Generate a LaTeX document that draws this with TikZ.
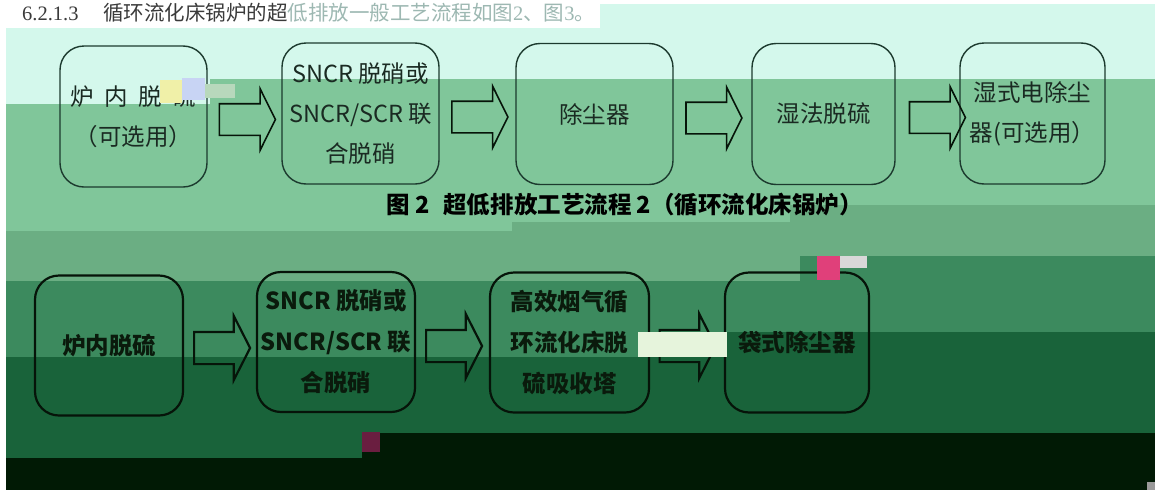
\documentclass[tikz,border=0pt]{standalone}
\usepackage{fontspec}
\setmainfont{Liberation Serif}
\newfontfamily\cjk{Noto Sans CJK SC}
\usetikzlibrary{shapes.arrows}
\definecolor{mint}{HTML}{D4F8EC}
\definecolor{gA}{HTML}{80C69A}
\definecolor{gB}{HTML}{6BAE83}
\definecolor{gC}{HTML}{3C8A5E}
\definecolor{gD}{HTML}{19633A}
\definecolor{gE}{HTML}{011A05}
\definecolor{uline}{HTML}{1C3A2E}
\definecolor{utext}{HTML}{1A2A22}
\definecolor{lline}{HTML}{061409}
\definecolor{ltext}{HTML}{0A1A0C}
\definecolor{hdark}{HTML}{3A3A3A}
\definecolor{hlight}{HTML}{9DB8B2}
\definecolor{glA}{HTML}{E6F4DC}
\definecolor{glB}{HTML}{F0F0A8}
\definecolor{glC}{HTML}{C8D4F4}
\definecolor{glD}{HTML}{B8D8BC}
\definecolor{glE}{HTML}{E0407A}
\definecolor{glF}{HTML}{D8D8D8}
\definecolor{glG}{HTML}{6A1E40}
\definecolor{glH}{HTML}{9A9A9A}
\begin{document}
\begin{tikzpicture}[x=1pt,y=-1pt,
  ubox/.style={draw=uline, line width=1.4pt, rounded corners=24pt, minimum height=141pt,
    align=center, text=utext, inner sep=0pt, font=\cjk\fontsize{23.5}{40}\selectfont},
  lbox/.style={draw=lline, line width=2.2pt, rounded corners=24pt, minimum height=140pt,
    align=center, text=ltext, inner sep=0pt, font=\cjk\bfseries\fontsize{23.5}{41}\selectfont},
  uarrow/.style={single arrow, draw=lline, line width=1.6pt, minimum height=56pt,
    single arrow head extend=15pt, inner xsep=0pt, inner ysep=15pt, single arrow tip angle=127},
  larrow/.style={single arrow, draw=lline, line width=2.2pt, minimum height=56pt,
    single arrow head extend=16pt, inner xsep=0pt, inner ysep=15pt, single arrow tip angle=126}]
\useasboundingbox (0,0) rectangle (1155,490);
% background bands
\fill[white] (0,0) rectangle (1155,490);
\fill[mint] (6,28) rectangle (1155,490);
\fill[mint] (600,4) rectangle (1155,28);
\fill[gA] (6,104) rectangle (210,490);
\fill[gA] (210,79) rectangle (1155,490);
\fill[gB] (6,231) rectangle (512,490);
\fill[gB] (512,222) rectangle (790,490);
\fill[gB] (790,205) rectangle (1155,490);
\fill[gC] (6,281) rectangle (800,490);
\fill[gC] (800,256) rectangle (1155,490);
\fill[gD] (6,357) rectangle (727,490);
\fill[gD] (727,332) rectangle (1155,490);
\fill[gE] (6,458) rectangle (362,490);
\fill[gE] (362,433) rectangle (1155,490);
% header line
\node[anchor=base west, inner sep=0pt, font=\fontsize{20.5}{22}\selectfont] (hdr) at (22,20)
  {\color{hdark}6.2.1.3\hspace{1.2em}{\cjk 循环流化床锅炉的超}\color{hlight}{\cjk 低排放一般工艺流程如图}2{\cjk 、图}3{\cjk 。}};
% upper row
\node[ubox, minimum width=147pt] (u1) at (133.5,116.5)
  {炉\hspace{0.45em}内\hspace{0.45em}脱\hspace{0.45em}硫\\（可选用）};
\node[ubox, minimum width=157pt] (u2) at (360.5,113.5) {SNCR 脱硝或\\SNCR/SCR 联\\合脱硝};
\node[ubox, minimum width=157pt] (u3) at (594.5,114) {除尘器};
\node[ubox, minimum width=143pt] (u4) at (823.5,114) {湿法脱硫};
\node[ubox, minimum width=145pt] (u5) at (1032.5,113.5) {湿式电除尘\\器(可选用）};
\node[uarrow] (ua1) at (243.5,119.5) {};
\node[uarrow] (ua2) at (476,117) {};
\node[uarrow] (ua3) at (710,118) {};
\node[uarrow] (ua4) at (933.5,117.5) {};
% caption
\node[anchor=west, inner sep=0pt, text=black, font=\cjk\bfseries\fontsize{23.5}{25}\selectfont] (cap) at (386,205)
  {图 2\hspace{0.6em}超低排放工艺流程 2（循环流化床锅炉）};
% lower row
\node[lbox, minimum width=148pt] (l1) at (109,345.5) {炉内脱硫};
\node[lbox, minimum width=158pt] (l2) at (336,342) {SNCR 脱硝或\\SNCR/SCR 联\\合脱硝};
\node[lbox, minimum width=159pt] (l3) at (569.5,342.5) {高效烟气循\\环流化床脱\\硫吸收塔};
\node[lbox, minimum width=144pt] (l4) at (797,342.5) {袋式除尘器};
\node[larrow] (la1) at (218,348) {};
\node[larrow] (la2) at (450,346) {};
\node[larrow] (la3) at (683.5,346) {};
% glitch blocks
\fill[glA] (638,332) rectangle (727,357);
\fill[glB] (160,80) rectangle (182,103);
\fill[glC] (182,78) rectangle (205,100);
\fill[glD] (205,84) rectangle (235,98);
\fill[glE] (817,256) rectangle (840,280);
\fill[glF] (840,256) rectangle (867,268);
\fill[glG] (362,432) rectangle (380,452);
\fill[glH] (1147,482) rectangle (1155,490);
\end{tikzpicture}
\end{document}
